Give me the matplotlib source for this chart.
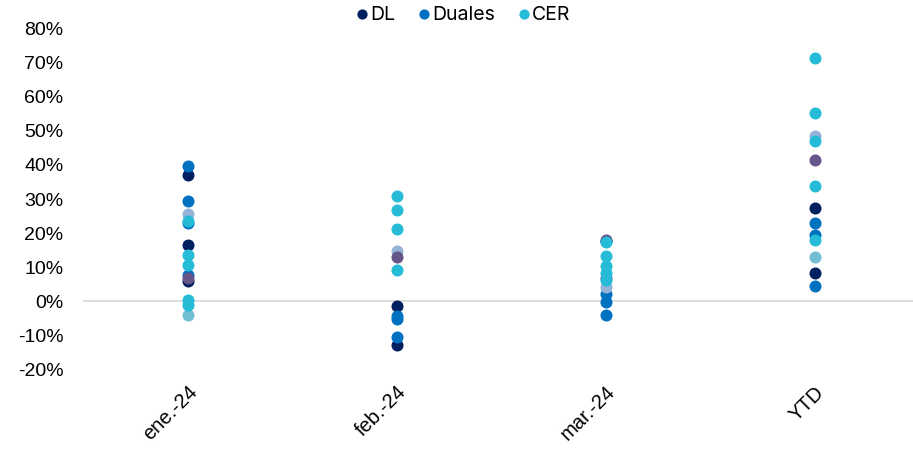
import numpy as np
import matplotlib.pyplot as plt

plt.rcParams['font.family'] = ['Liberation Sans', 'DejaVu Sans']

cats = ['ene.-24', 'feb.-24', 'mar.-24', 'YTD']

# values in % per category (one list per category)
dl = [[36.8, 16.4, 5.6], [-1.5, -12.9], [17.5], [27.1, 8.1]]
duales = [[39.5, 29.0, 22.6, 7.6], [-4.4, -5.4, -10.6], [1.8, -0.5, -4.1], [22.7, 19.3, 4.2]]
cer = [[23.2, 13.2, 10.5, 0.3, -1.2], [30.7, 26.6, 21.0, 8.9], [17.2, 13.0, 10.0, 8.1, 6.1],
       [71.0, 54.9, 46.6, 33.4, 17.8]]
grey = [[25.3], [14.6], [3.9], [48.0]]
purple = [[6.6], [12.8], [17.8, 6.6], [41.2]]
teal = [[-4.1], [], [], [12.8]]

series = [
    (dl, '#002060', 'DL'),
    (duales, '#0070C0', 'Duales'),
    (grey, '#95B3D7', None),
    (purple, '#66558A', None),
    (teal, '#72BED3', None),
    (cer, '#26BBD6', 'CER'),
]

fig = plt.figure(figsize=(9.13, 4.52), dpi=100)
ax = fig.add_axes([83/913, 1-370/452, 1-83/913, (370-28)/452])

ax.axhline(0, color='#D9D9D9', lw=1.3, zorder=1)
for vals, col, lab in series:
    xs, ys = [], []
    for i, v in enumerate(vals):
        xs += [i]*len(v)
        ys += [x/100 for x in v]
    ax.scatter(xs, ys, s=75, color=col, label=lab, zorder=3, linewidths=0)

ax.set_xlim(-0.5, 3.47)
ax.set_ylim(-0.2, 0.8)
ticks = np.arange(-0.2, 0.81, 0.1)
ax.set_yticks(ticks)
ax.set_yticklabels(['%d%%' % round(t*100) for t in ticks], fontsize=14)
ax.set_xticks(range(4))
ax.set_xticklabels(cats, fontsize=14.5, rotation=45, ha='right', rotation_mode='anchor')
ax.tick_params(axis='y', length=0, pad=14)
ax.tick_params(axis='x', length=0, pad=9)
for s in ax.spines.values():
    s.set_visible(False)

h, l = ax.get_legend_handles_labels()
order = [l.index('DL'), l.index('Duales'), l.index('CER')]
fig.legend([h[i] for i in order], [l[i] for i in order], loc='upper center',
           bbox_to_anchor=(0.5, 1.025), ncol=3, frameon=False, handletextpad=-0.6,
           columnspacing=0.5, markerscale=0.85, prop={'family': 'Inter', 'size': 14})

fig.savefig('out.png', dpi=100)
